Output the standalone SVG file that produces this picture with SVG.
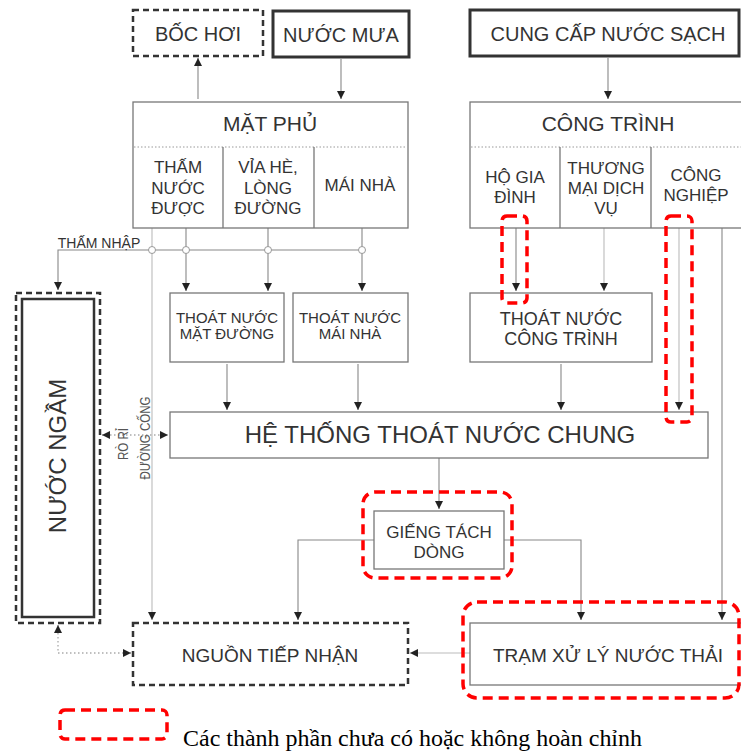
<svg xmlns="http://www.w3.org/2000/svg" width="741" height="751" viewBox="0 0 741 751">
<defs>
<marker id="arr" markerWidth="9" markerHeight="9" refX="8" refY="4" orient="auto-start-reverse" markerUnits="userSpaceOnUse"><path d="M0,0 L8,4 L0,8 z" fill="#222"/></marker>
<style>
text{font-family:"Liberation Sans",Arial,sans-serif;fill:#333;text-anchor:middle}
.box{fill:#fff;stroke:#777;stroke-width:1.3}
.thick{fill:#fff;stroke:#333;stroke-width:3}
.dash{fill:#fff;stroke:#333;stroke-width:2.5;stroke-dasharray:6 4}
.red{fill:none;stroke:#f00;stroke-width:3.5;stroke-dasharray:10 6}
.div{stroke:#777;stroke-width:1.3}
.dot{stroke:#999;stroke-width:1;stroke-dasharray:1.5 2}
.ln{fill:none;stroke:#888;stroke-width:1.1}
.lt{fill:none;stroke:#bbb;stroke-width:1.1}
.dl{fill:none;stroke:#aaa;stroke-width:1.3;stroke-dasharray:1.5 2.5}
.hub{fill:#fff;stroke:#999;stroke-width:1}
.side{fill:#555}
</style>
</defs>
<rect width="741" height="751" fill="#fff"/>

<!-- connectors -->
<g id="connectors">
<path class="ln" d="M198,99 V58" marker-end="url(#arr)"/>
<path class="ln" d="M341,59 V99" marker-end="url(#arr)"/>
<path class="ln" d="M608,58 V99" marker-end="url(#arr)"/>
<path class="lt" d="M152,228 V620" marker-end="url(#arr)"/>
<path class="ln" d="M186,228 V291" marker-end="url(#arr)"/>
<path class="ln" d="M268,228 V291" marker-end="url(#arr)"/>
<path class="ln" d="M362,228 V291" marker-end="url(#arr)"/>
<path class="ln" d="M362,250 H58 V290" marker-end="url(#arr)"/>
<path class="ln" d="M516,228 V291" marker-end="url(#arr)"/>
<path class="lt" d="M604,228 V291" marker-end="url(#arr)"/>
<path class="lt" d="M679,228 V410" marker-end="url(#arr)"/>
<path class="ln" d="M722,228 V620" marker-end="url(#arr)"/>
<path class="ln" d="M227,364 V410" marker-end="url(#arr)"/>
<path class="ln" d="M358,364 V410" marker-end="url(#arr)"/>
<path class="ln" d="M561,364 V410" marker-end="url(#arr)"/>
<path class="ln" d="M439,458 V509" marker-end="url(#arr)"/>
<path class="ln" d="M374,540 H298 V620" marker-end="url(#arr)"/>
<path class="ln" d="M504,540 H581 V620" marker-end="url(#arr)"/>
<path class="lt" d="M470,653 H410" marker-end="url(#arr)"/>
<path class="dl" d="M58,625 V653 H131" marker-start="url(#arr)" marker-end="url(#arr)"/>
<path class="dl" d="M102,435 H168" marker-start="url(#arr)" marker-end="url(#arr)"/>
<circle class="hub" cx="152" cy="250" r="3.5"/>
<circle class="hub" cx="186" cy="250" r="3.5"/>
<circle class="hub" cx="268" cy="250" r="3.5"/>
<circle class="hub" cx="362" cy="250" r="3.5"/>
<text x="99" y="248" font-size="14">THẤM NHẬP</text>
<text class="side" transform="translate(128,444) rotate(-90)" font-size="14" textLength="32" lengthAdjust="spacingAndGlyphs">RÒ RỈ</text>
<text class="side" transform="translate(150,438) rotate(-90)" font-size="14" textLength="83" lengthAdjust="spacingAndGlyphs">ĐƯỜNG CỐNG</text>
</g>

<g id="boc-hoi">
<rect class="dash" x="133" y="10" width="130" height="46"/>
<text x="198" y="41" font-size="20">BỐC HƠI</text>
</g>

<g id="nuoc-mua">
<rect class="thick" x="273" y="11" width="136" height="46"/>
<text x="341" y="42" font-size="20">NƯỚC MƯA</text>
</g>

<g id="cung-cap">
<rect class="thick" x="470" y="10" width="269" height="46"/>
<text x="608" y="41" font-size="20">CUNG CẤP NƯỚC SẠCH</text>
</g>

<g id="mat-phu">
<rect class="box" x="133" y="102" width="275" height="126"/>
<line class="dot" x1="134" y1="147" x2="407" y2="147"/>
<line class="div" x1="223" y1="147" x2="223" y2="228"/>
<line class="div" x1="314" y1="147" x2="314" y2="228"/>
<text x="270" y="131" font-size="21">MẶT PHỦ</text>
<text x="178" y="173" font-size="17">THẤM</text>
<text x="178" y="194" font-size="17">NƯỚC</text>
<text x="178" y="214" font-size="17">ĐƯỢC</text>
<text x="268" y="173" font-size="17">VỈA HÈ,</text>
<text x="268" y="194" font-size="17">LÒNG</text>
<text x="268" y="214" font-size="17">ĐƯỜNG</text>
<text x="360" y="191" font-size="17">MÁI NHÀ</text>
</g>

<g id="cong-trinh">
<rect class="box" x="470" y="102" width="275" height="126"/>
<line class="dot" x1="471" y1="147" x2="741" y2="147"/>
<line class="div" x1="560" y1="147" x2="560" y2="228"/>
<line class="div" x1="651" y1="147" x2="651" y2="228"/>
<text x="608" y="131" font-size="21">CÔNG TRÌNH</text>
<text x="515" y="183" font-size="17">HỘ GIA</text>
<text x="515" y="203" font-size="17">ĐÌNH</text>
<text x="606" y="174" font-size="17">THƯƠNG</text>
<text x="606" y="194" font-size="17">MẠI DỊCH</text>
<text x="606" y="214" font-size="17">VỤ</text>
<text x="696" y="181" font-size="17">CÔNG</text>
<text x="696" y="201" font-size="17">NGHIỆP</text>
</g>

<g id="nuoc-ngam">
<rect class="dash" x="16" y="293" width="84" height="330"/>
<rect fill="#fff" stroke="#333" stroke-width="2.5" x="22" y="299" width="72" height="318"/>
<text transform="translate(66,456) rotate(-90)" font-size="24">NƯỚC NGẦM</text>
</g>

<g id="thoat-mat-duong">
<rect class="box" x="170" y="293" width="114" height="69"/>
<text x="227" y="323" font-size="15">THOÁT NƯỚC</text>
<text x="227" y="339" font-size="15">MẶT ĐƯỜNG</text>
</g>

<g id="thoat-mai-nha">
<rect class="box" x="293" y="293" width="115" height="69"/>
<text x="350" y="323" font-size="15">THOÁT NƯỚC</text>
<text x="350" y="339" font-size="15">MÁI NHÀ</text>
</g>

<g id="thoat-cong-trinh">
<rect class="box" x="470" y="293" width="182" height="69"/>
<text x="561" y="325" font-size="18">THOÁT NƯỚC</text>
<text x="561" y="345" font-size="18">CÔNG TRÌNH</text>
</g>

<g id="he-thong">
<rect class="box" x="170" y="412" width="538" height="46"/>
<text x="440" y="443" font-size="24">HỆ THỐNG THOÁT NƯỚC CHUNG</text>
</g>

<g id="gieng-tach-dong">
<rect class="box" x="374" y="511" width="130" height="58"/>
<text x="439" y="538" font-size="17">GIẾNG TÁCH</text>
<text x="439" y="558" font-size="17">DÒNG</text>
</g>

<g id="nguon-tiep-nhan">
<rect class="dash" x="133" y="623" width="275" height="62"/>
<text x="270" y="662" font-size="19">NGUỒN TIẾP NHẬN</text>
</g>

<g id="tram-xu-ly">
<rect class="box" x="470" y="623" width="275" height="62"/>
<text x="608" y="662" font-size="19">TRẠM XỬ LÝ NƯỚC THẢI</text>
</g>

<!-- incomplete parts -->
<g id="incomplete">
<rect class="red" x="502" y="216" width="25" height="87" rx="5"/>
<rect class="red" x="666" y="216" width="26" height="206" rx="5"/>
<rect class="red" x="363" y="492" width="149" height="86" rx="12"/>
<rect class="red" x="463" y="602" width="276" height="96" rx="14"/>
</g>

<g id="legend">
<rect class="red" x="60" y="710" width="107" height="29" rx="5"/>
<text x="183" y="746" font-size="24" textLength="459" lengthAdjust="spacingAndGlyphs" style="font-family:'Liberation Serif','Times New Roman',serif;fill:#000;text-anchor:start">Các thành phần chưa có hoặc không hoàn chỉnh</text>
</g>
</svg>
